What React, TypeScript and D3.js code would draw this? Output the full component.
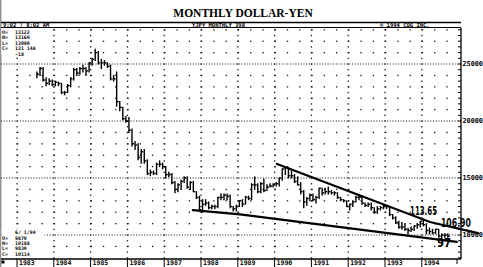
import React from 'react';
import * as d3 from 'd3';

const W = 483;
const H = 267;

// Monthly bars start in July 1983
const FIRST_YEAR = 1983;
const FIRST_MONTH = 6;

// Monthly high / low / close, yen per dollar
const monthlyHigh = [
  243, 247, 247, 238, 237, 236,
  235, 234, 233, 226, 232, 238, 246, 246, 247, 249, 247, 251,
  255, 263, 261, 254, 253, 251, 249, 240, 243, 217, 212, 204,
  203, 193, 182, 180, 175, 175, 166, 157, 156, 163, 165, 163,
  160, 155, 154, 147, 145, 148, 151, 151, 147, 147, 138, 134,
  131, 131, 129, 126, 126, 133, 136, 136, 136, 135, 125, 126,
  130, 131, 134, 134, 145, 151, 145, 146, 149, 144, 145, 145,
  146, 150, 158, 160, 159, 156, 153, 151, 146, 139, 133, 136,
  136, 134, 141, 141, 141, 142, 139, 138, 137, 133, 131, 130,
  127, 130, 134, 135, 134, 128, 128, 128, 124, 125, 125, 126,
  126, 125, 118, 116, 112, 111, 110, 106, 107, 108, 110, 112,
  113, 110, 106, 105, 105, 105, 101, 101, 101,
];
const monthlyLow = [
  238, 240, 235, 231, 232, 231,
  231, 231, 224, 223, 225, 230, 236, 240, 241, 243, 240, 243,
  249, 253, 250, 246, 249, 247, 236, 235, 213, 209, 201, 199,
  190, 178, 175, 166, 163, 163, 153, 152, 153, 153, 160, 158,
  150, 151, 145, 137, 138, 140, 146, 141, 140, 138, 132, 121,
  120, 126, 123, 123, 123, 124, 131, 131, 131, 124, 121, 121,
  125, 125, 127, 131, 131, 140, 137, 137, 138, 139, 142, 142,
  143, 143, 148, 153, 150, 150, 146, 144, 136, 124, 126, 130,
  130, 128, 132, 135, 136, 136, 136, 135, 132, 130, 129, 125,
  122, 125, 129, 131, 127, 125, 125, 122, 119, 119, 122, 123,
  123, 117, 114, 110, 106, 105, 104, 101, 103, 104, 106, 107,
  108, 101, 101, 101, 101, 98, 96, 98, 98,
];
const monthlyClose = [
  241, 246, 236, 233, 235, 232,
  234, 233, 225, 225, 231, 237, 245, 242, 246, 246, 244, 251,
  254, 260, 251, 251, 251, 248, 237, 237, 217, 212, 202, 200,
  192, 180, 179, 168, 173, 165, 154, 155, 154, 162, 162, 160,
  153, 153, 146, 140, 144, 147, 150, 142, 146, 138, 133, 122,
  127, 128, 124, 125, 125, 133, 133, 135, 134, 125, 123, 125,
  130, 127, 133, 132, 144, 144, 138, 145, 139, 142, 143, 144,
  145, 150, 158, 159, 152, 152, 147, 144, 138, 129, 132, 135,
  131, 133, 141, 137, 138, 138, 137, 137, 133, 131, 130, 125,
  127, 129, 133, 133, 128, 126, 127, 124, 120, 123, 124, 125,
  125, 118, 115, 111, 107, 107, 105, 104, 105, 108, 109, 112,
  109, 104, 103, 102, 105, 99, 100, 100, 99,
];

const yearLabels = ['1983', '1984', '1985', '1986', '1987', '1988', '1989', '1990', '1991', '1992', '1993', '1994'];
const priceTicks = [250, 200, 150, 100];
const priceTickLabels = ['25000', '20000', '15000', '10000'];

// Hand-drawn trend channel, [decimal year, price]
const upperTrend: [number, number][] = [[1990.065, 162.3], [1994.22, 111.4], [1995.53, 101.75]];
const lowerTrend: [number, number][] = [[1987.78, 121.9], [1989.06, 118.0], [1994.95, 93.9]];

// Hand-written notes, [decimal year, price] at the text baseline
const noteTexts = ['113.65', '106.90', '97'];
const noteYears = [1993.68, 1994.52, 1994.41];
const notePrices = [117.5, 107.0, 89.6];
const noteWidths = [27, 30, 14];

// Quote panels
const topQuoteKeys = ['O=', 'H=', 'L=', 'C=', ''];
const topQuoteVals = ['13122', '13160', '13090', '131 14A', '-18'];
const bottomQuoteDate = '6/ 1/94';
const bottomQuoteKeys = ['O=', 'H=', 'L=', 'C='];
const bottomQuoteVals = ['9870', '10188', '9830', '10114'];

const x = d3.scaleLinear().domain([1983, 1995]).range([17, 458.6]);
const y = d3.scaleLinear().domain([100, 250]).range([235, 64]);

const AXIS_X = 461;
const PLOT_TOP = 28;
const PLOT_BOTTOM = 259;
const mono = '"DejaVu Sans Mono", monospace';
const ROW = 5.4;

export default function App() {
  const bars = monthlyHigh.map((h, i) => {
    const m = FIRST_MONTH + i;
    const t = FIRST_YEAR + Math.floor(m / 12) + ((m % 12) + 0.5) / 12;
    return { t, h, l: monthlyLow[i], c: monthlyClose[i] };
  });

  const years = d3.range(1983, 1995);
  const minorLevels = d3.range(80, 290, 10).filter((v) => v % 50 !== 0 && y(v) > PLOT_TOP && y(v) < PLOT_BOTTOM - 2);
  const fourMonth = d3.range(1983, 1995, 1 / 3);
  const colLevels = d3.range(80, 285, 5).filter((v) => y(v) > PLOT_TOP && y(v) < PLOT_BOTTOM);
  const axisTicks = d3.range(80, 285, 5).filter((v) => y(v) > PLOT_TOP + 1 && y(v) < PLOT_BOTTOM);

  const line = d3.line<[number, number]>().x((d) => x(d[0])).y((d) => y(d[1]));

  return (
    <svg width={W} height={H} viewBox={`0 0 ${W} ${H}`} style={{ position: 'fixed', left: 0, top: 0, background: '#fff' }}>
      <rect x={0} y={0} width={W} height={H} fill="#fff" />
      <line x1={0.8} y1={0} x2={0.8} y2={H} stroke="#777" strokeWidth={1.2} />

      {/* title */}
      <text x={243} y={17} textAnchor="middle" fontFamily='"Liberation Serif", serif' fontWeight="bold" fontSize={11.5}>
        MONTHLY DOLLAR-YEN
      </text>

      {/* header bar */}
      <line x1={1} y1={22.5} x2={AXIS_X} y2={22.5} stroke="#000" strokeWidth={1.6} />
      <line x1={1} y1={27.5} x2={AXIS_X} y2={27.5} stroke="#000" strokeWidth={1} />
      <g fontFamily={mono} fontSize={5.5} fontWeight="bold" fill="#000">
        <text x={3} y={27}>9:02 | 8:02 AM</text>
        <text x={192} y={27}>YJPY MONTHLY 398</text>
        <text x={380} y={27}>© 1994 CQG INC.</text>
      </g>

      {/* dotted price grid */}
      <g fill="#111">
        {priceTicks.map((v) => (
          <line key={`M${v}`} x1={1} x2={AXIS_X} y1={y(v)} y2={y(v)} stroke="#111" strokeWidth={1} strokeDasharray="1 1.7" />
        ))}
        {minorLevels.map((v) =>
          fourMonth.map((t) => <rect key={`m${v}-${t}`} x={x(t)} y={y(v) - 0.6} width={1.3} height={1.3} />)
        )}
        {years.map((yr) =>
          colLevels.map((v) => <rect key={`c${yr}-${v}`} x={x(yr) - 0.6} y={y(v) - 0.6} width={1.3} height={1.3} />)
        )}
      </g>

      {/* trend channel */}
      <path d={line(upperTrend) ?? ''} fill="none" stroke="#000" strokeWidth={2.3} strokeLinecap="round" />
      <path d={line(lowerTrend) ?? ''} fill="none" stroke="#000" strokeWidth={2.3} strokeLinecap="round" />

      {/* monthly HLC bars */}
      <g stroke="#000" strokeWidth={1.4}>
        {bars.map((b, i) => (
          <g key={i}>
            <line x1={x(b.t)} x2={x(b.t)} y1={y(b.h) - 0.5} y2={y(b.l) + 0.5} />
            <line x1={x(b.t)} x2={x(b.t) + 2} y1={y(b.c)} y2={y(b.c)} />
          </g>
        ))}
      </g>

      {/* hand-written notes */}
      <g fontFamily='"DejaVu Sans", sans-serif' fontSize={12} fill="#000" fontWeight="bold">
        {noteTexts.map((s, i) => (
          <text key={s} x={x(noteYears[i])} y={y(notePrices[i])} textLength={noteWidths[i]} lengthAdjust="spacingAndGlyphs">
            {s}
          </text>
        ))}
      </g>

      {/* right price axis */}
      <line x1={AXIS_X} x2={AXIS_X} y1={PLOT_TOP} y2={PLOT_BOTTOM} stroke="#000" strokeWidth={1.3} />
      <g stroke="#000" strokeWidth={1}>
        {axisTicks.map((v) => (
          <line key={v} x1={AXIS_X - 3} x2={AXIS_X} y1={y(v)} y2={y(v)} />
        ))}
      </g>
      <g fontFamily={mono} fontSize={6.8} fontWeight="bold" fill="#000">
        {priceTicks.map((v, i) => (
          <text key={v} x={AXIS_X + 1.5} y={y(v) + 2.4}>{priceTickLabels[i]}</text>
        ))}
      </g>

      {/* quote panels */}
      <rect x={1.5} y={29} width={42} height={26} fill="#fff" />
      <g fontFamily={mono} fontSize={4.9} fontWeight="bold" fill="#000">
        {topQuoteVals.map((s, i) => (
          <g key={`t${i}`}>
            <text x={2} y={34 + i * ROW}>{topQuoteKeys[i]}</text>
            <text x={15} y={34 + i * ROW}>{s}</text>
          </g>
        ))}
      </g>
      <rect x={1.5} y={229} width={43} height={29} fill="#fff" />
      <g fontFamily={mono} fontSize={4.9} fontWeight="bold" fill="#000">
        <text x={15} y={234}>{bottomQuoteDate}</text>
        {bottomQuoteVals.map((s, i) => (
          <g key={`b${i}`}>
            <text x={2} y={239.5 + i * ROW}>{bottomQuoteKeys[i]}</text>
            <text x={15} y={239.5 + i * ROW}>{s}</text>
          </g>
        ))}
      </g>

      {/* year axis */}
      <line x1={1} x2={AXIS_X} y1={PLOT_BOTTOM} y2={PLOT_BOTTOM} stroke="#000" strokeWidth={1.3} />
      <rect x={1.5} y={260.5} width={3} height={3} fill="#000" />
      <g stroke="#000" strokeWidth={1}>
        {years.map((yr) => (
          <line key={yr} x1={x(yr)} x2={x(yr)} y1={PLOT_BOTTOM} y2={H} />
        ))}
        <line x1={AXIS_X - 4} x2={AXIS_X - 4} y1={PLOT_BOTTOM} y2={H - 3} />
      </g>
      <g fontFamily={mono} fontSize={6.5} fontWeight="bold" fill="#000">
        {years.map((yr, i) => (
          <text key={yr} x={x(yr) + 2} y={265}>{yearLabels[i]}</text>
        ))}
      </g>
    </svg>
  );
}
